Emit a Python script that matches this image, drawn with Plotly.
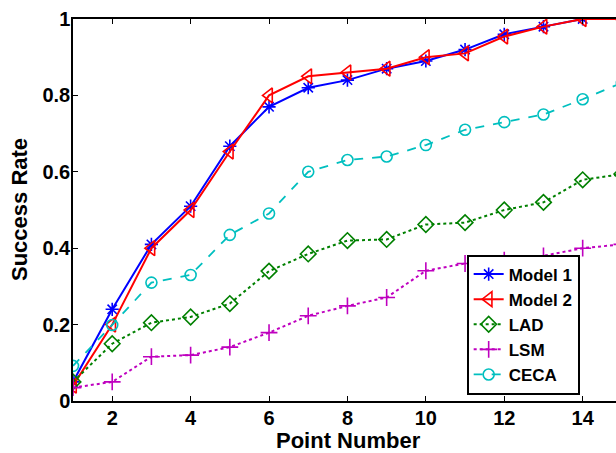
import plotly.graph_objects as go

points = list(range(1, 16))
model1 = [0.05, 0.24, 0.41, 0.51, 0.667, 0.77, 0.82, 0.84, 0.87, 0.89, 0.92, 0.96, 0.98, 1.0, 1.0]
model2 = [0.04, 0.20, 0.40, 0.50, 0.653, 0.80, 0.85, 0.86, 0.87, 0.90, 0.91, 0.954, 0.98, 1.0, 1.0]
lad = [0.05, 0.15, 0.205, 0.22, 0.255, 0.34, 0.385, 0.42, 0.423, 0.462, 0.467, 0.50, 0.52, 0.579, 0.594]
lsm = [0.035, 0.05, 0.116, 0.12, 0.141, 0.179, 0.223, 0.249, 0.271, 0.341, 0.36, 0.369, 0.38, 0.40, 0.41]
ceca = [0.092, 0.199, 0.31, 0.33, 0.435, 0.491, 0.60, 0.631, 0.64, 0.67, 0.71, 0.73, 0.75, 0.79, 0.833]

x_ticks = [2, 4, 6, 8, 10, 12, 14]
y_ticks = [0, 0.2, 0.4, 0.6, 0.8, 1]
y_tick_text = ["0", "0.2", "0.4", "0.6", "0.8", "1"]

FONT = "Liberation Sans, Arial, sans-serif"

series = [
    ("Model 1", model1, "#0000ff", "solid", "asterisk-open", 11, 2),
    ("Model 2", model2, "#ff0000", "solid", "triangle-left-open", 13, 2),
    ("LAD", lad, "#008000", "dot", "diamond-open", 12, 2),
    ("LSM", lsm, "#bf00bf", "dot", "cross-thin-open", 12, 2),
    ("CECA", ceca, "#00bfbf", "dash", "circle-open", 11, 1.8),
]

fig = go.Figure()
for name, vals, color, dash, sym, size, lw in series:
    fig.add_trace(go.Scatter(
        x=points, y=vals, name=name, mode="lines+markers",
        line=dict(color=color, width=lw, dash=dash),
        marker=dict(symbol=sym, size=size, color=color,
                    line=dict(color=color, width=1.6)),
    ))

fig.update_layout(
    width=616, height=453,
    margin=dict(l=73, r=0, t=19, b=52),
    plot_bgcolor="white", paper_bgcolor="white",
    font=dict(family=FONT, color="black", size=20),
    showlegend=True,
    legend=dict(
        x=0.725, y=0.017, xanchor="left", yanchor="bottom",
        bgcolor="white", bordercolor="black", borderwidth=2,
        font=dict(family=FONT, size=17, weight="bold", color="black"),
        tracegroupgap=0, itemwidth=30,
    ),
    annotations=[
        dict(text="Point Number", xref="paper", yref="paper",
             x=(348 - 73) / 543, y=(401 - 440) / 382,
             xanchor="center", yanchor="middle", showarrow=False,
             font=dict(family=FONT, size=22, weight="bold", color="black")),
        dict(text="Success Rate", xref="paper", yref="paper",
             x=(19 - 73) / 543, y=0.5, textangle=-90,
             xanchor="center", yanchor="middle", showarrow=False,
             font=dict(family=FONT, size=22, weight="bold", color="black")),
    ],
)
fig.update_xaxes(
    range=[1, 14.85], tickvals=x_ticks,
    ticks="inside", ticklen=5, tickcolor="black",
    showline=True, linecolor="black", linewidth=1.5, mirror="ticks",
    showgrid=False, zeroline=False, automargin=False,
    ticklabelstandoff=-2,
    tickfont=dict(family=FONT, size=20, weight="bold"),
)
fig.update_yaxes(
    range=[0, 1], tickvals=y_ticks, ticktext=y_tick_text,
    ticks="inside", ticklen=5, tickcolor="black",
    showline=True, linecolor="black", linewidth=1.5,
    showgrid=False, zeroline=False, automargin=False,
    ticklabelstandoff=-3,
    tickfont=dict(family=FONT, size=20, weight="bold"),
)

fig.write_html("out.html", config={"displayModeBar": False},
               post_script="document.body.style.margin='0';")
